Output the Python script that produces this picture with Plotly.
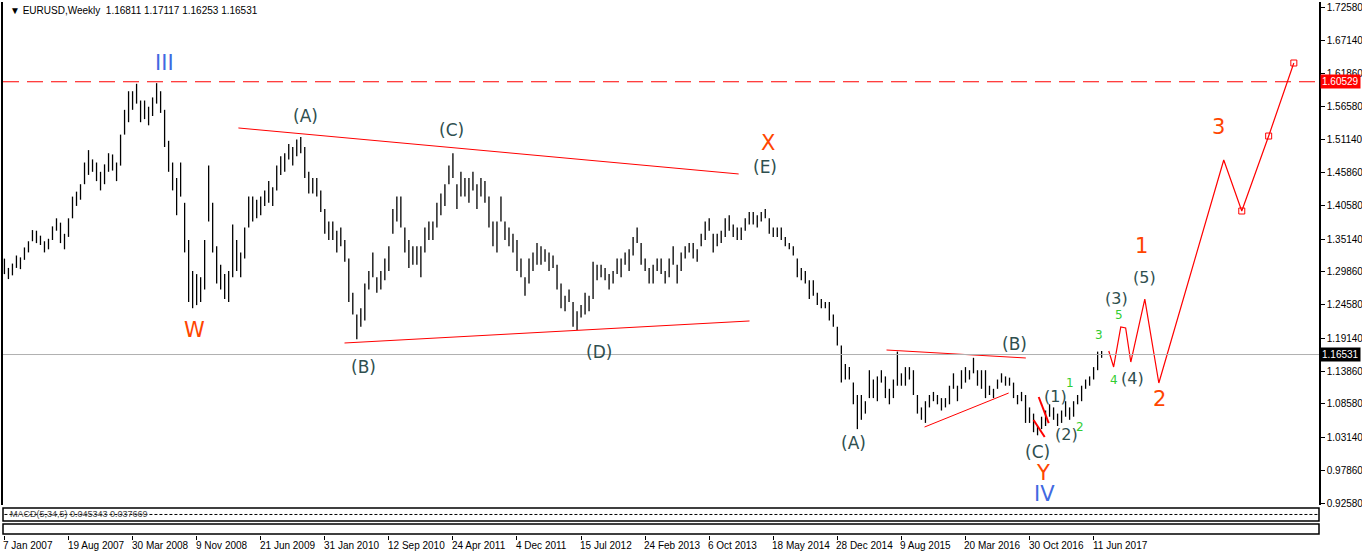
import pandas as pd
import plotly.graph_objects as go

# biweekly ranges, EURUSD, from 7 Jan 2007
lo = [
    1.295, 1.287, 1.293, 1.305, 1.303, 1.318, 1.330, 1.348, 1.345, 1.342, 1.330, 1.335, 1.350, 1.365, 1.345, 1.335, 1.355, 1.385, 1.405, 1.415, 1.440, 1.455, 1.460, 1.445, 1.430, 1.440,
    1.460, 1.462, 1.445, 1.470, 1.520, 1.540, 1.560, 1.570, 1.540, 1.545, 1.535, 1.550, 1.570, 1.555, 1.500, 1.460, 1.430, 1.390, 1.420, 1.330, 1.250, 1.240, 1.245, 1.250, 1.270, 1.380,
    1.330, 1.280, 1.270, 1.255, 1.250, 1.290, 1.300, 1.290, 1.320, 1.370, 1.380, 1.385, 1.390, 1.405, 1.410, 1.405, 1.430, 1.455, 1.460, 1.480, 1.470, 1.485, 1.490, 1.450, 1.425, 1.425,
    1.420, 1.395, 1.360, 1.350, 1.350, 1.330, 1.340, 1.315, 1.250, 1.230, 1.190, 1.210, 1.220, 1.270, 1.290, 1.265, 1.270, 1.285, 1.300, 1.360, 1.380, 1.370, 1.330, 1.305, 1.310, 1.310,
    1.290, 1.330, 1.350, 1.350, 1.370, 1.390, 1.405, 1.440, 1.450, 1.400, 1.420, 1.420, 1.410, 1.430, 1.400, 1.420, 1.410, 1.370, 1.340, 1.330, 1.380, 1.350, 1.340, 1.330, 1.300, 1.290,
    1.260, 1.280, 1.300, 1.310, 1.310, 1.315, 1.300, 1.305, 1.270, 1.240, 1.235, 1.250, 1.210, 1.205, 1.225, 1.230, 1.235, 1.255, 1.285, 1.290, 1.285, 1.270, 1.280, 1.295, 1.290, 1.310,
    1.300, 1.325, 1.345, 1.310, 1.300, 1.280, 1.280, 1.300, 1.295, 1.280, 1.290, 1.310, 1.280, 1.300, 1.320, 1.330, 1.320, 1.315, 1.340, 1.350, 1.365, 1.330, 1.340, 1.345, 1.355, 1.365,
    1.355, 1.350, 1.350, 1.365, 1.375, 1.375, 1.370, 1.380, 1.385, 1.360, 1.355, 1.355, 1.350, 1.340, 1.335, 1.325, 1.290, 1.285, 1.280, 1.255, 1.260, 1.245, 1.240, 1.240, 1.220, 1.210,
    1.180, 1.120, 1.125, 1.125, 1.085, 1.045, 1.060, 1.070, 1.095, 1.095, 1.090, 1.120, 1.095, 1.085, 1.095, 1.115, 1.115, 1.115, 1.125, 1.100, 1.070, 1.060, 1.055, 1.080, 1.090, 1.085,
    1.075, 1.080, 1.085, 1.110, 1.090, 1.110, 1.120, 1.125, 1.135, 1.115, 1.110, 1.095, 1.100, 1.095, 1.110, 1.120, 1.115, 1.115, 1.095, 1.085, 1.090, 1.055, 1.055, 1.040, 1.035, 1.045,
    1.050, 1.065, 1.060, 1.050, 1.055, 1.065, 1.060, 1.065, 1.085, 1.090, 1.110, 1.115, 1.125, 1.140, 1.160,
]
hi = [
    1.320, 1.305, 1.312, 1.325, 1.322, 1.338, 1.348, 1.366, 1.365, 1.357, 1.348, 1.352, 1.372, 1.385, 1.378, 1.360, 1.385, 1.420, 1.428, 1.440, 1.475, 1.495, 1.480, 1.475, 1.460, 1.472,
    1.490, 1.488, 1.475, 1.520, 1.560, 1.590, 1.590, 1.602, 1.575, 1.575, 1.565, 1.580, 1.603, 1.590, 1.560, 1.510, 1.475, 1.450, 1.475, 1.410, 1.350, 1.300, 1.295, 1.290, 1.350, 1.470,
    1.410, 1.340, 1.310, 1.295, 1.300, 1.375, 1.350, 1.330, 1.370, 1.420, 1.420, 1.415, 1.420, 1.430, 1.445, 1.435, 1.470, 1.485, 1.490, 1.505, 1.500, 1.512, 1.516, 1.500, 1.460, 1.450,
    1.450, 1.430, 1.400, 1.380, 1.380, 1.365, 1.370, 1.350, 1.320, 1.265, 1.230, 1.240, 1.280, 1.300, 1.330, 1.290, 1.300, 1.320, 1.340, 1.400, 1.420, 1.420, 1.370, 1.350, 1.340, 1.340,
    1.340, 1.370, 1.380, 1.380, 1.410, 1.425, 1.440, 1.470, 1.490, 1.440, 1.460, 1.450, 1.450, 1.460, 1.440, 1.450, 1.445, 1.420, 1.380, 1.380, 1.420, 1.380, 1.370, 1.360, 1.350, 1.320,
    1.290, 1.320, 1.330, 1.345, 1.340, 1.335, 1.330, 1.325, 1.310, 1.280, 1.260, 1.270, 1.250, 1.235, 1.245, 1.265, 1.260, 1.315, 1.310, 1.310, 1.305, 1.295, 1.300, 1.320, 1.320, 1.330,
    1.335, 1.355, 1.370, 1.345, 1.320, 1.305, 1.310, 1.320, 1.320, 1.300, 1.320, 1.340, 1.310, 1.330, 1.340, 1.345, 1.345, 1.335, 1.360, 1.380, 1.385, 1.360, 1.360, 1.365, 1.385, 1.390,
    1.375, 1.370, 1.370, 1.385, 1.395, 1.395, 1.390, 1.395, 1.400, 1.385, 1.370, 1.370, 1.370, 1.355, 1.345, 1.340, 1.320, 1.305, 1.300, 1.285, 1.285, 1.265, 1.255, 1.250, 1.250, 1.230,
    1.210, 1.180, 1.150, 1.145, 1.120, 1.100, 1.100, 1.090, 1.140, 1.125, 1.130, 1.140, 1.130, 1.110, 1.125, 1.170, 1.135, 1.145, 1.145, 1.140, 1.100, 1.080, 1.090, 1.100, 1.105, 1.100,
    1.095, 1.095, 1.115, 1.135, 1.115, 1.140, 1.145, 1.140, 1.160, 1.140, 1.140, 1.140, 1.115, 1.110, 1.125, 1.135, 1.130, 1.128, 1.120, 1.100, 1.105, 1.100, 1.080, 1.070, 1.050, 1.065,
    1.075, 1.085, 1.080, 1.070, 1.075, 1.090, 1.080, 1.090, 1.100, 1.115, 1.125, 1.130, 1.145, 1.170, 1.171,
]

BASE = pd.Timestamp("2007-01-07")
dates = pd.date_range(BASE, periods=len(lo), freq="14D")

# projected path (days from 7 Jan 2007, price)
proj_days = [3861, 3878, 3903, 3920, 3938, 3987, 4036, 4263, 4326, 4420, 4508]
proj_px = [1.1710, 1.1452, 1.2097, 1.2081, 1.1532, 1.2548, 1.1194, 1.4790, 1.3968, 1.5177, 1.6355]
proj_marks = [8, 9, 10]

# trend lines: (day0, price0, day1, price1, width)
trend_lines = [
    (818, 1.5307, 2567, 1.4565, 1),
    (1189, 1.1839, 2605, 1.2194, 1),
    (3084, 1.1726, 3571, 1.1597, 1),
    (3217, 1.0484, 3511, 1.1032, 1),
    (3616, 1.0968, 3651, 1.0548, 2),
    (3598, 1.0597, 3637, 1.0323, 2),
]

# wave labels: (text, day, price, colour, size)
DS, BL, OR, GR = "#2F4F4F", "#4169E1", "#FF4500", "#32CD32"
labels = [
    ("III", 560, 1.6355, BL, 21), ("W", 664, 1.2048, OR, 21),
    ("(A)", 1053, 1.5500, DS, 17), ("(B)", 1255, 1.1452, DS, 17),
    ("(C)", 1563, 1.5274, DS, 17), ("(D)", 2077, 1.1694, DS, 17),
    ("X", 2668, 1.5064, OR, 21), ("(E)", 2658, 1.4677, DS, 17),
    ("(A)", 2969, 1.0226, DS, 17), ("(B)", 3532, 1.1823, DS, 17),
    ("(C)", 3612, 1.0081, DS, 17), ("Y", 3630, 0.9742, OR, 21),
    ("IV", 3637, 0.9403, BL, 21), ("(1)", 3675, 1.0984, DS, 16),
    ("(2)", 3714, 1.0371, DS, 16), ("1", 3724, 1.1194, GR, 12),
    ("2", 3759, 1.0484, GR, 12), ("3", 3826, 1.1968, GR, 12),
    ("(3)", 3889, 1.2564, DS, 16), ("5", 3896, 1.2290, GR, 12),
    ("4", 3878, 1.1242, GR, 12), ("(4)", 3944, 1.1274, DS, 16),
    ("(5)", 3987, 1.2903, DS, 16), ("1", 3976, 1.3403, OR, 21),
    ("2", 4039, 1.0935, OR, 21), ("3", 4245, 1.5323, OR, 21),
]

y_ticks = [1.72580, 1.67140, 1.61860, 1.56580, 1.51140, 1.45860, 1.40580, 1.35140,
           1.29860, 1.24580, 1.19140, 1.13860, 1.08580, 1.03140, 0.97860, 0.92580]
x_ticks = ["7 Jan 2007", "19 Aug 2007", "30 Mar 2008", "9 Nov 2008", "21 Jun 2009",
           "31 Jan 2010", "12 Sep 2010", "24 Apr 2011", "4 Dec 2011", "15 Jul 2012",
           "24 Feb 2013", "6 Oct 2013", "18 May 2014", "28 Dec 2014", "9 Aug 2015",
           "20 Mar 2016", "30 Oct 2016", "11 Jun 2017"]
resist = 1.60529
last = 1.16531

FONT = "Liberation Sans"


def day(d):
    return BASE + pd.Timedelta(days=d)


fig = go.Figure()

bx, by = [], []
for d, l, h in zip(dates, lo, hi):
    bx += [d, d, None]
    by += [l, h, None]
fig.add_trace(go.Scatter(x=bx, y=by, mode="lines", line=dict(color="black", width=1.3),
                         hoverinfo="skip"))

for d0, p0, d1, p1, w in trend_lines:
    fig.add_trace(go.Scatter(x=[day(d0), day(d1)], y=[p0, p1], mode="lines",
                             line=dict(color="red", width=w), hoverinfo="skip"))

fig.add_trace(go.Scatter(x=[day(d) for d in proj_days], y=proj_px, mode="lines",
                         line=dict(color="red", width=1.2), hoverinfo="skip"))
fig.add_trace(go.Scatter(x=[day(proj_days[i]) for i in proj_marks],
                         y=[proj_px[i] for i in proj_marks], mode="markers",
                         marker=dict(symbol="square-open", color="red", size=6),
                         hoverinfo="skip"))

# MACD panel baseline
fig.add_trace(go.Scatter(x=[dates[0], day(4700)], y=[0, 0], yaxis="y2", mode="lines",
                         line=dict(color="black", width=1, dash="3px,2px"), hoverinfo="skip"))

fig.add_hline(y=resist, line=dict(color="red", width=1.2, dash="16px,8px"))
fig.add_hline(y=last, line=dict(color="#b0b0b0", width=1))

for t, d, p, c, s in labels:
    fig.add_annotation(x=day(d), y=p, text=t, showarrow=False,
                       font=dict(color=c, size=s, family="DejaVu Sans"))

for t in x_ticks:
    fig.add_annotation(x=pd.Timestamp(t), y=-0.006, yref="paper", text=t, showarrow=False,
                       xanchor="left", yanchor="top", xshift=-3,
                       font=dict(size=10, family=FONT, color="black"))

for v, bg, fg in [(resist, "red", "white"), (last, "black", "white")]:
    fig.add_annotation(x=1.0, xref="paper", y=v, text=f"{v:.5f}", showarrow=False,
                       xanchor="left", xshift=1, bgcolor=bg, borderpad=1,
                       font=dict(size=10, family=FONT, color=fg))

fig.add_annotation(x=0.004, y=0.998, xref="paper", yref="paper", xanchor="left", yanchor="top",
                   text="▼ EURUSD,Weekly  1.16811 1.17117 1.16253 1.16531", showarrow=False,
                   font=dict(size=10, family=FONT, color="black"))
fig.add_annotation(x=0.004, y=0.039, xref="paper", yref="paper", xanchor="left", yanchor="middle",
                   text="MACD(5,34,5) 0.045343 0.037669", showarrow=False,
                   font=dict(size=9, family=FONT, color="#444"))

# panel frames
for y0, y1 in [(0.0263, 0.0507), (0.002, 0.0206)]:
    fig.add_shape(type="rect", xref="paper", yref="paper", x0=0, x1=1, y0=y0, y1=y1,
                  line=dict(color="black", width=1.5))

fig.update_layout(
    width=1362, height=555,
    margin=dict(l=3, r=43, t=2, b=20, autoexpand=False),
    plot_bgcolor="white", paper_bgcolor="white",
    showlegend=False,
    xaxis=dict(range=[pd.Timestamp("2007-01-02"), pd.Timestamp("2019-08-08")],
               tickvals=[pd.Timestamp(t) for t in x_ticks], ticktext=[""] * len(x_ticks),
               ticks="outside", ticklen=4, tickcolor="black", showgrid=False,
               anchor="free", position=0, showline=False, zeroline=False, automargin=False),
    yaxis=dict(domain=[0.0563, 1], range=[0.9226, 1.7339], side="right",
               tickvals=y_ticks, ticktext=[f"{v:.5f}" for v in y_ticks],
               ticks="outside", ticklen=4, tickcolor="black", showgrid=False,
               showline=True, linecolor="black", linewidth=1.5, mirror=True, automargin=False,
               tickfont=dict(size=10, family=FONT, color="black")),
    yaxis2=dict(domain=[0.0263, 0.0507], range=[-0.12, 0.12], side="right",
                showticklabels=False, showgrid=False, zeroline=False, ticks="", automargin=False),
)

fig.write_html("out.html", config={"displayModeBar": False},
               post_script="document.body.style.margin='0px';document.body.style.overflow='hidden';")
